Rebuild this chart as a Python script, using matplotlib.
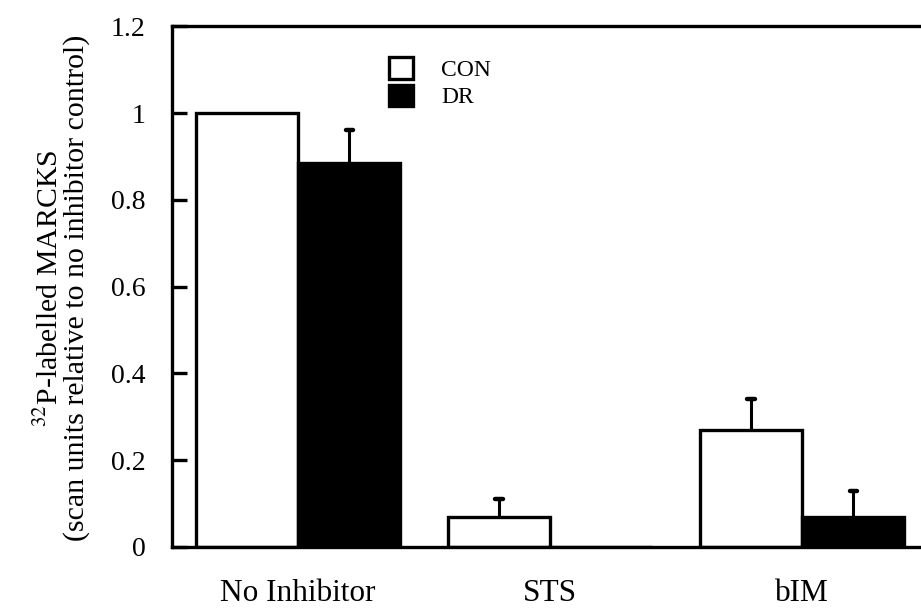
import numpy as np
import matplotlib
matplotlib.use('Agg')
import matplotlib.pyplot as plt

# relative 32P-MARCKS signal, normalised to the no-inhibitor control
groups = ['No Inhibitor', 'STS', 'bIM']
series = ['CON', 'DR']
con_means = [1.0, 0.07, 0.27]
con_errs = [0.0, 0.04, 0.07]
dr_means = [0.885, 0.0, 0.07]
dr_errs = [0.075, 0.0, 0.06]
yticks = [0, 0.2, 0.4, 0.6, 0.8, 1.0, 1.2]
ytick_labels = ['0', '0.2', '0.4', '0.6', '0.8', '1', '1.2']

plt.rcParams['font.family'] = ['Liberation Serif', 'DejaVu Serif']
plt.rcParams['mathtext.fontset'] = 'stix'

fig = plt.figure(figsize=(9.21, 6.1), dpi=100)
ax = fig.add_axes([0.1868, 0.1033, 1.0 - 0.1868, 0.957 - 0.1033])

x = np.arange(len(groups))
w = 0.405
lw = 2.4

ax.bar(x - w / 2, con_means, w, color='white', edgecolor='black',
       linewidth=lw, label=series[0], zorder=2)
ax.bar(x + w / 2, dr_means, w, color='black', edgecolor='black',
       linewidth=lw, label=series[1], zorder=2)


def upper_errors(xpos, means, errs):
    # one-sided bars: stem from the bar top up to a short cap
    for xi, m, e in zip(xpos, means, errs):
        if e <= 0:
            continue
        ax.vlines(xi, m, m + e, color='black', linewidth=2.2, zorder=1)
        ax.hlines(m + e, xi - 0.014, xi + 0.014, color='black',
                  linewidth=3.2, capstyle='round', zorder=1)


upper_errors(x - w / 2, con_means, con_errs)
upper_errors(x + w / 2, dr_means, dr_errs)

ax.set_xlim(-0.5, 2.472)
ax.set_ylim(0, 1.2)
ax.set_yticks(yticks)
ax.set_yticklabels(ytick_labels)
ax.set_xticks(x)
ax.set_xticklabels(groups)

ax.tick_params(axis='y', direction='in', length=11, width=lw, pad=19,
               labelsize=20)
ax.tick_params(axis='x', length=0, pad=23, labelsize=22.5)

for side in ['left', 'top', 'bottom']:
    ax.spines[side].set_linewidth(lw)
ax.spines['right'].set_visible(False)

fig.text(0.068, 0.528,
         '$^{32}$P-labelled MARCKS\n(scan units relative to no inhibitor control)',
         rotation=90, ha='center', va='center', multialignment='center',
         fontsize=21.5, linespacing=0.95)

ax.legend(loc='upper left', bbox_to_anchor=(0.29, 0.94), frameon=False,
          fontsize=17, handlelength=1.0, handleheight=1.0,
          handletextpad=1.2, labelspacing=0.15, borderpad=0,
          borderaxespad=0)

fig.savefig('out.png', dpi=100)
